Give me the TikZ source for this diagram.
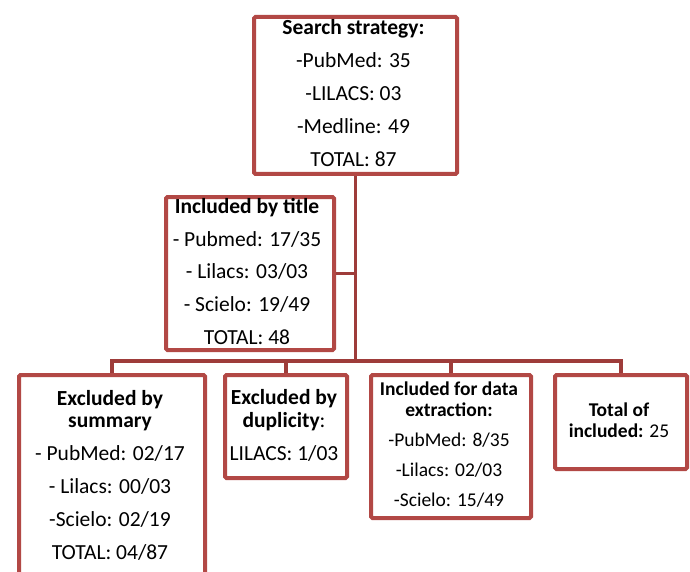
\documentclass[tikz,border=0pt]{standalone}
\usepackage{fontspec}
\setmainfont{Carlito}
\definecolor{boxred}{RGB}{178,72,69}
\definecolor{linered}{RGB}{158,60,58}
\begin{document}
\begin{tikzpicture}[x=1pt,y=-1pt,
  box/.style={draw=boxred,line width=4pt,rounded corners=1.5pt,fill=white,inner sep=0pt,anchor=north west},
  conn/.style={draw=linered,line width=3.2pt},
  big/.style={font=\fontsize{21.5}{32.8}\selectfont,align=center,inner sep=0pt},
  small/.style={font=\fontsize{19.5}{30}\selectfont,align=center,inner sep=0pt}]
\useasboundingbox (0,0) rectangle (690,572);
% boxes
\node[box,minimum width=203pt,minimum height=157pt] (top) at (252,15) {};
\node[box,minimum width=168pt,minimum height=153pt] (title) at (164,195) {};
\node[box,minimum width=186pt,minimum height=230pt] (b1) at (17,373) {};
\node[box,minimum width=122pt,minimum height=103pt] (b2) at (223,373) {};
\node[box,minimum width=160pt,minimum height=143pt] (b3) at (369,373) {};
\node[box,minimum width=132pt,minimum height=94pt] (b4) at (553,373) {};
% connectors
\coordinate (bus) at (354,361);
\draw[conn] (top.south) -- (top.south |- bus);
\draw[conn] (title.east) -- (title.east -| bus);
\draw[conn] (b1.north) |- (b4.north |- bus) -- (b4.north);
\draw[conn] (b2.north) -- (b2.north |- bus);
\draw[conn] (b3.north) -- (b3.north |- bus);
% texts
\node[big] (ttop) at (353.5,93) {\textbf{Search strategy:}\\-PubMed: 35\\-LILACS: 03\\-Medline: 49\\TOTAL: 87};
\node[big] (ttitle) at (247,271.5) {\textbf{Included by title}\\- Pubmed: 17/35\\- Lilacs: 03/03\\- Scielo: 19/49\\TOTAL: 48};
\node[big] (tb1) at (110,475) {\textbf{Excluded by}\\[-10pt]\textbf{summary}\\- PubMed: 02/17\\- Lilacs: 00/03\\-Scielo: 02/19\\TOTAL: 04/87};
\node[big] (tb2) at (284,425.5) {\textbf{Excluded by}\\[-10pt]\textbf{duplicity}:\\LILACS: 1/03};
\node[small] (tb3) at (449,445) {\textbf{Included for data}\\[-9pt]\textbf{extraction:}\\-PubMed: 8/35\\-Lilacs: 02/03\\-Scielo: 15/49};
\node[small] (tb4) at (619,420) {\textbf{Total of}\\[-9pt]\textbf{included:} 25};
\end{tikzpicture}
\end{document}
